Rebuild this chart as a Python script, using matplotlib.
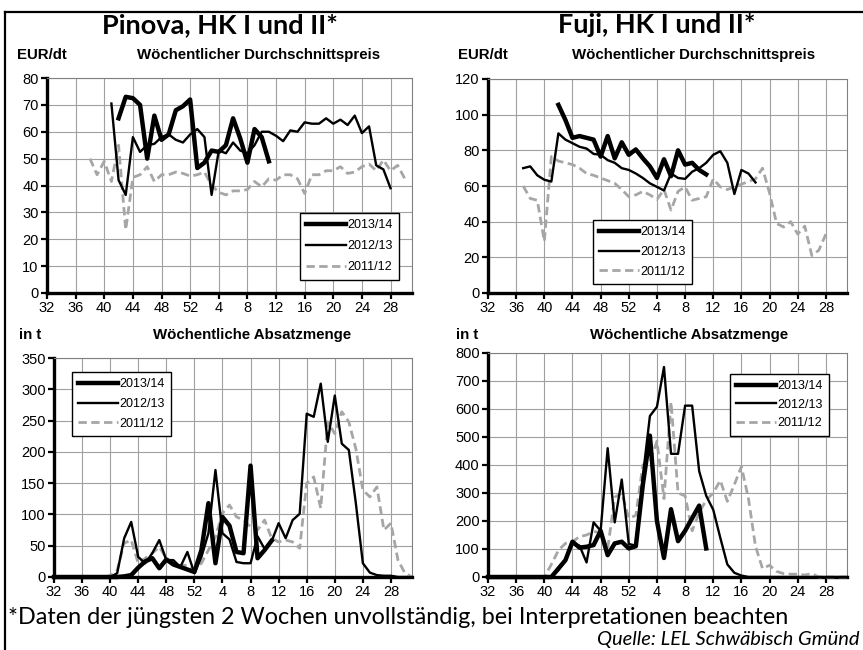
import numpy as np
import matplotlib
matplotlib.use("Agg")
import matplotlib.pyplot as plt
from matplotlib.lines import Line2D

plt.rcParams["font.family"] = "Liberation Sans"

# calendar weeks on the x axis (season runs from week 32 to week 31)
week_ticks = [32, 36, 40, 44, 48, 52, 4, 8, 12, 16, 20, 24, 28]
seasons = ["2013/14", "2012/13", "2011/12"]

# Pinova, weekly mean price in EUR/dt
pin_price_1314_start = 42
pin_price_1314 = [65, 73, 72.5, 70, 50, 66, 57, 59, 68, 69.5, 72,
                  46.5, 48.5, 53, 52.5, 55, 65, 57.5, 48.5, 61, 58, 49]
pin_price_1213_start = 41
pin_price_1213 = [70.5, 42, 36.5, 58, 52.5, 55, 55.5, 58, 59, 57, 56, 59,
                  61, 58, 36.5, 53, 52, 56, 53, 52, 55, 60, 60, 58.5, 56.5,
                  60.5, 60, 63.5, 63, 63, 65, 63, 64.5, 62.5, 66, 59.5, 62,
                  47.5, 46, 39]
pin_price_1112_start = 38
pin_price_1112 = [50, 44, 49, 41.5, 55, 23.5, 43, 44, 47, 41.5, 44, 44, 45,
                  44.5, 43.5, 44, 45, 40, 37.5, 36.5, 38, 38, 38.5, 41.5,
                  39.5, 42.5, 42, 44, 44, 42.5, 37, 44, 44, 45.5, 45.5, 47,
                  44.5, 45, 47, 48, 45.5, 49.5, 45.5, 47.5, 42.5]

# Fuji, weekly mean price in EUR/dt
fuji_price_1314_start = 42
fuji_price_1314 = [105.5, 97, 87, 88, 87, 86, 76.5, 88, 75.5, 84.5, 77.5,
                   80.5, 75.5, 71, 64.5, 75, 65.5, 80, 72, 73, 69, 66.5]
fuji_price_1213_start = 37
fuji_price_1213 = [70, 71, 66, 63.5, 62.5, 89.5, 86, 84, 82, 81, 78, 77.5,
                   74.5, 73, 70, 69, 67, 64.5, 61.5, 59.5, 57.5, 67, 64.5,
                   64, 68, 70, 73, 77.5, 79.5, 73, 55.5, 69, 67, 62]
fuji_price_1112_start = 37
fuji_price_1112 = [60, 53, 52, 29, 76.5, 74, 73, 72, 70, 67, 66, 64.5, 63,
                   61.5, 58, 54, 55, 57, 55, 52.5, 58, 46.5, 57, 59.5, 52,
                   53, 54, 64, 59.5, 58, 59.5, 61, 62.5, 64, 70, 56, 39, 37,
                   40, 33, 37.5, 21, 24, 33]

# Pinova, weekly sales volume in t (from week 32)
pin_vol_1314 = [0, 0, 0, 0, 0, 0, 0, 0, 0, 0, 1, 3, 15, 25, 30, 14, 28, 20,
                16, 12, 8, 43, 118, 22, 96, 82, 40, 38, 178, 30, 43, 58]
pin_vol_1213 = [0, 0, 0, 0, 0, 0, 0, 0, 0, 6, 62, 88, 32, 22, 38, 59, 27, 27,
                16, 40, 6, 32, 70, 171, 70, 60, 24, 22, 22, 65, 45, 57, 86,
                62, 91, 101, 261, 256, 309, 216, 290, 213, 203, 118, 22, 7,
                3, 2, 2, 0, 0, 0]
pin_vol_1112 = [0, 0, 0, 0, 0, 0, 0, 0, 2, 11, 54, 59, 22, 30, 38, 48, 30,
                22, 18, 19, 11, 22, 43, 64, 102, 115, 96, 91, 80, 75, 91, 62,
                56, 59, 56, 46, 150, 160, 110, 248, 229, 264, 248, 205, 139,
                128, 144, 75, 86, 27, 6, 0]

# Fuji, weekly sales volume in t (from week 32)
fuji_vol_1314 = [0, 0, 0, 0, 0, 0, 0, 0, 0, 0, 30, 60, 126, 105, 108, 114,
                 165, 78, 120, 126, 102, 110, 330, 505, 200, 68, 242, 128,
                 165, 210, 255, 102]
fuji_vol_1213 = [0, 0, 0, 0, 0, 0, 0, 0, 0, 0, 25, 60, 120, 112, 52, 195,
                 165, 460, 195, 348, 118, 112, 360, 575, 608, 750, 440, 440,
                 612, 612, 378, 290, 240, 140, 45, 15, 5, 0, 0, 0, 0, 0, 0,
                 0, 0, 0, 0, 0, 0, 0, 0, 0]
fuji_vol_1112 = [0, 0, 0, 0, 0, 0, 0, 0, 0, 45, 95, 120, 126, 144, 150, 162,
                 160, 100, 285, 300, 210, 220, 400, 410, 485, 280, 625, 300,
                 290, 165, 230, 275, 300, 345, 270, 330, 395, 280, 110, 30,
                 42, 20, 12, 10, 10, 7, 12, 0, 0, 0, 0, 0]

W, H = 863, 650
styles = {
    "2013/14": dict(color="black", lw=3.2),
    "2012/13": dict(color="black", lw=1.7),
    "2011/12": dict(color="#a6a6a6", lw=2.0, ls=(0, (3, 1.6))),
}


def week_pos(week):
    return week - 32 if week >= 32 else week + 20


def xs(start, vals):
    p0 = week_pos(start)
    return np.arange(p0, p0 + len(vals))


def fig_rect(l, t, r, b):
    return [l / W, 1 - b / H, (r - l) / W, (b - t) / H]


def draw(ax, series, ymax, ystep, leg_xy, leg_sp):
    handles = {}
    for name in ["2011/12", "2012/13", "2013/14"]:
        start, vals = series[name]
        (ln,) = ax.plot(xs(start, vals), vals, zorder=3, clip_on=False,
                        solid_joinstyle="round", **styles[name])
        handles[name] = ln
    ax.set_xlim(0, 51)
    ax.set_ylim(0, ymax)
    ax.set_xticks(range(0, 49, 4))
    ax.set_xticklabels(week_ticks)
    ax.set_yticks(np.arange(0, ymax + 1, ystep))
    ax.grid(True, color="#a0a0a0", lw=0.8)
    ax.set_axisbelow(True)
    for s in ["left", "bottom"]:
        ax.spines[s].set_linewidth(2.4)
        ax.spines[s].set_color("black")
    for s in ["top", "right"]:
        ax.spines[s].set_linewidth(0.8)
        ax.spines[s].set_color("#808080")
    ax.tick_params(labelsize=10.5, length=4, width=1.6, direction="out",
                   color="black", pad=2)
    ax.legend([handles[s] for s in seasons], seasons, loc="upper left",
              bbox_to_anchor=(leg_xy[0] / W, 1 - leg_xy[1] / H),
              bbox_transform=ax.figure.transFigure, fontsize=9,
              frameon=True, fancybox=False, framealpha=1, edgecolor="black",
              handlelength=3.2, handletextpad=0.1, labelspacing=leg_sp,
              borderpad=0.5, borderaxespad=0)


fig = plt.figure(figsize=(W / 100, H / 100), dpi=100)

ax1 = fig.add_axes(fig_rect(47, 78, 412, 293))
draw(ax1, {"2013/14": (pin_price_1314_start, pin_price_1314),
           "2012/13": (pin_price_1213_start, pin_price_1213),
           "2011/12": (pin_price_1112_start, pin_price_1112)},
     80, 10, (300, 213), 0.72)

ax2 = fig.add_axes(fig_rect(488, 79, 847, 293))
draw(ax2, {"2013/14": (fuji_price_1314_start, fuji_price_1314),
           "2012/13": (fuji_price_1213_start, fuji_price_1213),
           "2011/12": (fuji_price_1112_start, fuji_price_1112)},
     120, 20, (593, 220), 0.62)

ax3 = fig.add_axes(fig_rect(54, 358, 412, 577))
draw(ax3, {"2013/14": (32, pin_vol_1314),
           "2012/13": (32, pin_vol_1213),
           "2011/12": (32, pin_vol_1112)},
     350, 50, (72, 372), 0.62)

ax4 = fig.add_axes(fig_rect(488, 353, 847, 577))
draw(ax4, {"2013/14": (32, fuji_vol_1314),
           "2012/13": (32, fuji_vol_1213),
           "2011/12": (32, fuji_vol_1112)},
     800, 100, (730, 374), 0.52)


def ftext(x, y, s, **kw):
    fig.text(x / W, 1 - y / H, s, **kw)


ftext(220, 25, "Pinova, HK I und II*", fontsize=19.5, fontweight="bold",
      family="Lato", ha="center", va="center")
ftext(657, 25, "Fuji, HK I und II*", fontsize=19.5, fontweight="bold",
      family="Lato", ha="center", va="center")

sub = dict(fontsize=10.8, fontweight="bold", va="center")
ftext(17, 55, "EUR/dt", ha="left", **sub)
ftext(259, 55, "Wöchentlicher Durchschnittspreis", ha="center", **sub)
ftext(458, 55, "EUR/dt", ha="left", **sub)
ftext(694, 55, "Wöchentlicher Durchschnittspreis", ha="center", **sub)
ftext(19, 335, "in t", ha="left", **sub)
ftext(252, 335, "Wöchentliche Absatzmenge", ha="center", **sub)
ftext(456, 335, "in t", ha="left", **sub)
ftext(689, 335, "Wöchentliche Absatzmenge", ha="center", **sub)

ftext(8, 617, "*Daten der jüngsten 2 Wochen unvollständig, bei Interpretationen beachten",
      fontsize=16.8, family="Lato", ha="left", va="center")
ftext(859, 640, "Quelle: LEL Schwäbisch Gmünd", fontsize=14.5, family="Lato",
      style="italic", ha="right", va="center")

# outer frame (top and left edge)
fig.add_artist(Line2D([5 / W, 1], [1 - 12 / H] * 2, color="black", lw=1.6))
fig.add_artist(Line2D([5 / W] * 2, [1 - 12 / H, 0], color="black", lw=1.6))

fig.savefig("out.png", dpi=100)
